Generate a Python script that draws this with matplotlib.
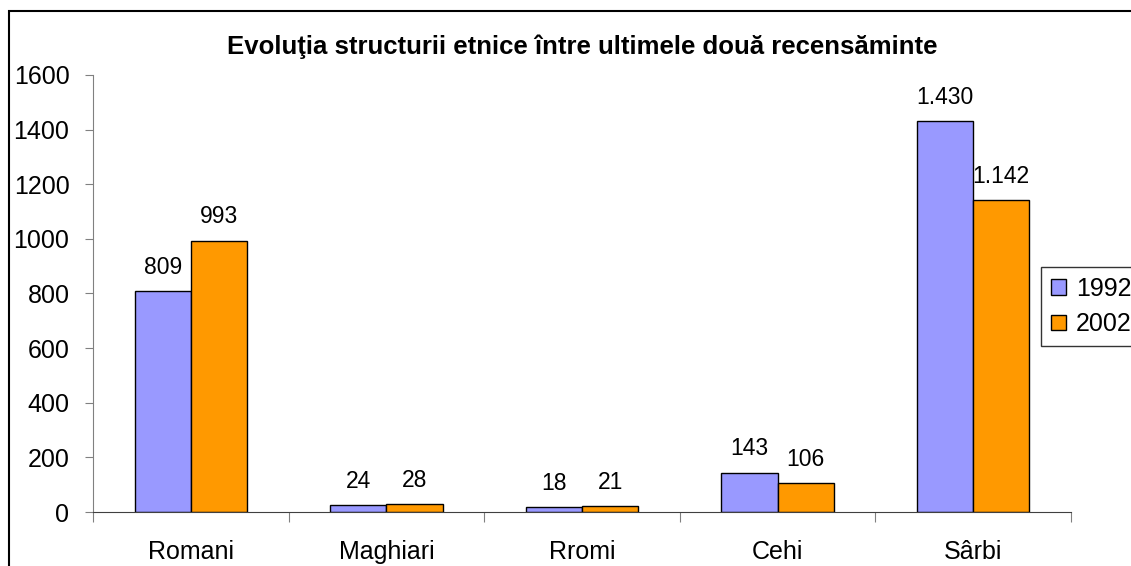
import numpy as np
import matplotlib
matplotlib.use('Agg')
import matplotlib.pyplot as plt
from matplotlib.patches import Rectangle

plt.rcParams['font.family'] = ['Liberation Sans', 'DejaVu Sans']

# date
categorii = ['Romani', 'Maghiari', 'Rromi', 'Cehi', 'Sârbi']
val_1992 = [809, 24, 18, 143, 1430]
val_2002 = [993, 28, 21, 106, 1142]
etichete_1992 = ['809', '24', '18', '143', '1.430']
etichete_2002 = ['993', '28', '21', '106', '1.142']

fig = plt.figure(figsize=(11.31, 5.66), dpi=100)
W, H = 1131, 566
ax = fig.add_axes([93 / W, 1 - 512 / H, (1071 - 93) / W, (512 - 75) / H])

# chenar exterior
fig.patches.append(Rectangle((9 / W, -0.1), 1.2, 1 - 11 / H + 0.1,
                             transform=fig.transFigure, fill=False,
                             edgecolor='black', linewidth=1.5))

x = np.arange(len(categorii))
w = 0.287
ax.bar(x - w / 2, val_1992, w, color='#9999ff', edgecolor='black', linewidth=1, label='1992')
ax.bar(x + w / 2, val_2002, w, color='#ff9900', edgecolor='black', linewidth=1, label='2002')

for xi, v, t in zip(x, val_1992, etichete_1992):
    ax.annotate(t, (xi - w / 2, v), xytext=(0, 9), textcoords='offset points',
                ha='center', va='bottom', fontsize=16.5)
for xi, v, t in zip(x, val_2002, etichete_2002):
    ax.annotate(t, (xi + w / 2, v), xytext=(0, 9), textcoords='offset points',
                ha='center', va='bottom', fontsize=16.5)

ax.set_xlim(-0.5, len(categorii) - 0.5)
ax.set_ylim(0, 1600)
ax.set_yticks(range(0, 1601, 200))
ax.tick_params(axis='y', labelsize=18, length=6, color='#808080', pad=11)
ax.set_xticks(np.arange(-0.5, len(categorii), 1))
ax.set_xticklabels([])
ax.set_xticks(x, minor=True)
ax.set_xticklabels(categorii, minor=True, fontsize=18)
ax.tick_params(axis='x', which='major', length=7, color='#808080')
ax.tick_params(axis='x', which='minor', length=0, pad=20)

for s in ['top', 'right']:
    ax.spines[s].set_visible(False)
ax.spines['left'].set_color('#808080')
ax.spines['bottom'].set_color('#404040')

fig.text(0.5 * (93 + 1071) / W, 1 - 47 / H,
         'Evoluţia structurii etnice între ultimele două recensăminte',
         ha='center', va='center', fontsize=18.5, fontweight='bold')

leg = ax.legend(loc='upper left', bbox_to_anchor=(1041 / W, 1 - 267 / H),
                bbox_transform=fig.transFigure, fontsize=18, frameon=True,
                fancybox=False, edgecolor='black', handlelength=0.6,
                handleheight=0.6, handletextpad=0.4, borderpad=0.4,
                labelspacing=0.45, borderaxespad=0)
leg.get_frame().set_linewidth(1)

fig.savefig('out.png', dpi=100)
